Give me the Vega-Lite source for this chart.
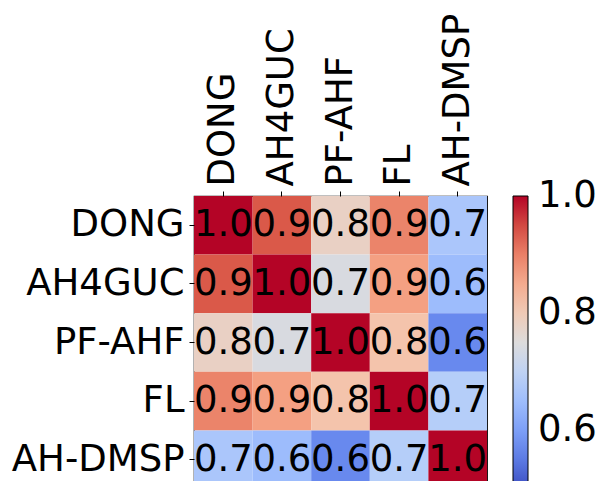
{
  "$schema": "https://vega.github.io/schema/vega-lite/v6.json",
  "width": 293,
  "height": 293,
  "padding": {"left": 11, "top": 13, "right": 5, "bottom": 0},
  "background": "white",
  "config": {
    "font": "DejaVu Sans",
    "view": {"stroke": "black", "strokeWidth": 1.2},
    "axis": {"labelFont": "DejaVu Sans", "labelColor": "black", "domain": false, "tickColor": "black", "tickSize": 5, "tickWidth": 1, "labelPadding": 5, "grid": false}
  },
  "data": {
    "values": [
      {"row": "DONG", "col": "DONG", "v": 1.0},
      {"row": "DONG", "col": "AH4GUC", "v": 0.938},
      {"row": "DONG", "col": "PF-AHF", "v": 0.782},
      {"row": "DONG", "col": "FL", "v": 0.896},
      {"row": "DONG", "col": "AH-DMSP", "v": 0.668},
      {"row": "AH4GUC", "col": "DONG", "v": 0.938},
      {"row": "AH4GUC", "col": "AH4GUC", "v": 1.0},
      {"row": "AH4GUC", "col": "PF-AHF", "v": 0.742},
      {"row": "AH4GUC", "col": "FL", "v": 0.866},
      {"row": "AH4GUC", "col": "AH-DMSP", "v": 0.648},
      {"row": "PF-AHF", "col": "DONG", "v": 0.782},
      {"row": "PF-AHF", "col": "AH4GUC", "v": 0.742},
      {"row": "PF-AHF", "col": "PF-AHF", "v": 1.0},
      {"row": "PF-AHF", "col": "FL", "v": 0.814},
      {"row": "PF-AHF", "col": "AH-DMSP", "v": 0.569},
      {"row": "FL", "col": "DONG", "v": 0.896},
      {"row": "FL", "col": "AH4GUC", "v": 0.866},
      {"row": "FL", "col": "PF-AHF", "v": 0.814},
      {"row": "FL", "col": "FL", "v": 1.0},
      {"row": "FL", "col": "AH-DMSP", "v": 0.683},
      {"row": "AH-DMSP", "col": "DONG", "v": 0.668},
      {"row": "AH-DMSP", "col": "AH4GUC", "v": 0.648},
      {"row": "AH-DMSP", "col": "PF-AHF", "v": 0.569},
      {"row": "AH-DMSP", "col": "FL", "v": 0.683},
      {"row": "AH-DMSP", "col": "AH-DMSP", "v": 1.0}
    ]
  },
  "encoding": {
    "x": {"field": "col", "type": "nominal", "sort": ["DONG", "AH4GUC", "PF-AHF", "FL", "AH-DMSP"], "scale": {"paddingInner": 0, "paddingOuter": 0},
      "axis": {"orient": "top", "title": null, "labelAngle": -90, "labelFontSize": 37, "labelAlign": "left", "labelBaseline": "middle"}},
    "y": {"field": "row", "type": "nominal", "sort": ["DONG", "AH4GUC", "PF-AHF", "FL", "AH-DMSP"], "scale": {"paddingInner": 0, "paddingOuter": 0},
      "axis": {"title": null, "labelFontSize": 37}}
  },
  "layer": [
    {
      "mark": {"type": "rect"},
      "encoding": {
        "color": {"field": "v", "type": "quantitative",
          "scale": {"domain": [0.5, 0.5625, 0.625, 0.6875, 0.75, 0.8125, 0.875, 0.9375, 1.0],
            "range": ["#3b4cc0", "#6485ec", "#8db0fe", "#b8d0f9", "#dddcdc", "#f4c5ad", "#f49a7b", "#da5a49", "#b40426"],
            "interpolate": "rgb"},
          "legend": {"title": null, "values": [0.6, 0.8, 1.0], "format": ".1f", "gradientLength": 293, "gradientThickness": 15,
            "gradientStrokeColor": "black", "gradientStrokeWidth": 1, "labelFontSize": 37, "labelColor": "black", "offset": 26, "labelOffset": 10, "padding": 0,
            "encode": {"labels": {"update": {"baseline": {"value": "middle"}}}}}
        }
      }
    },
    {
      "mark": {"type": "text", "fontSize": 37, "color": "black"},
      "encoding": {"text": {"field": "v", "type": "quantitative", "format": ".1f"}}
    }
  ]
}
